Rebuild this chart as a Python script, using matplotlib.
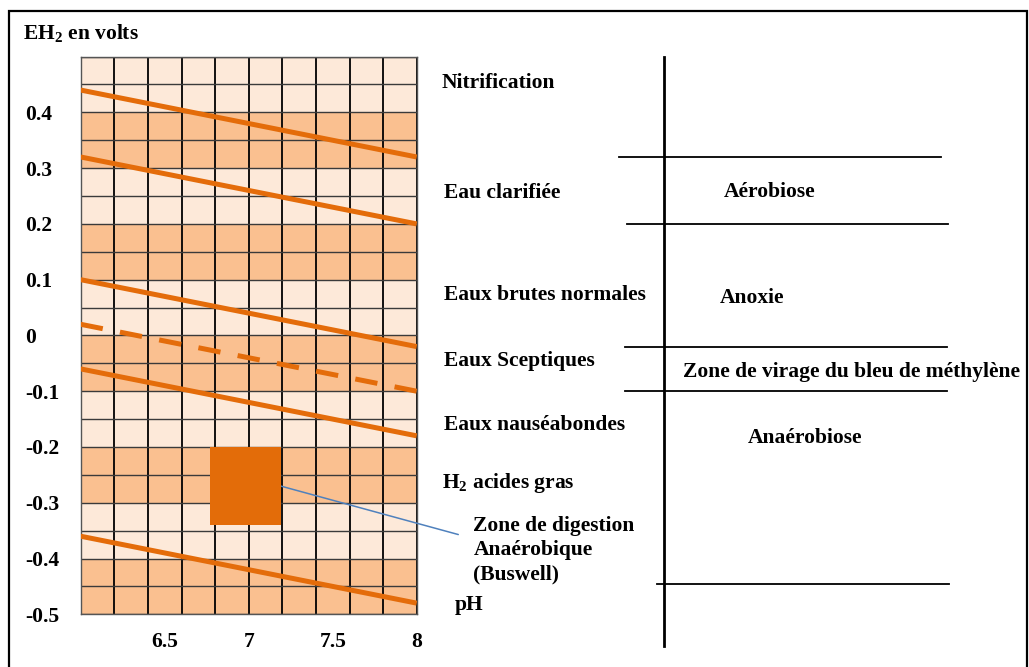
import numpy as np
import matplotlib
matplotlib.use("Agg")
import matplotlib.pyplot as plt
from matplotlib.patches import Rectangle

plt.rcParams['font.family'] = ['Liberation Serif', 'DejaVu Serif']
plt.rcParams['font.weight'] = 'bold'
plt.rcParams['mathtext.fontset'] = 'custom'
plt.rcParams['mathtext.rm'] = 'Liberation Serif:bold'
plt.rcParams['mathtext.it'] = 'Liberation Serif:bold'
plt.rcParams['mathtext.bf'] = 'Liberation Serif:bold'

# pH / potentiel redox (EH2, volts)
ph = [6.0, 8.0]
nitrification = [0.44, 0.32]
eau_clarifiee = [0.32, 0.20]
eaux_brutes = [0.10, -0.02]
eaux_sceptiques = [0.02, -0.10]
eaux_nauseabondes = [-0.06, -0.18]
acides_gras = [-0.36, -0.48]

# zone de digestion anaérobique (Buswell)
digestion_ph = [6.77, 7.19]
digestion_eh = [-0.34, -0.20]

xticks = [6.5, 7, 7.5, 8]
xtick_labels = ["6.5", "7", "7.5", "8"]
yticks = [0.4, 0.3, 0.2, 0.1, 0, -0.1, -0.2, -0.3, -0.4, -0.5]
ytick_labels = ["0.4", "0.3", "0.2", "0.1", "0", "-0.1", "-0.2", "-0.3", "-0.4", "-0.5"]

# étiquettes des eaux (à droite du graphe)
eaux_labels = ["Nitrification", "Eau clarifiée", "Eaux brutes normales",
               "Eaux Sceptiques", "Eaux nauséabondes", "H$_2$ acides gras"]
eaux_y = [0.452, 0.256, 0.073, -0.046, -0.16, -0.264]
eaux_x = [441.5, 444, 444, 444, 444, 441.7]

# zones et leurs limites
zones = ["Aérobiose", "Anoxie", "Zone de virage du bleu de méthylène", "Anaérobiose"]
zones_y = [0.258, 0.067, -0.066, -0.184]
zones_x = [724, 720, 683.3, 747.3]
limites = [0.32, 0.20, -0.02, -0.10, -0.445]
limites_x = [(619, 941), (627, 948), (625, 947), (625, 947), (657, 949)]

orange = "#E46C0A"
clair = "#FDE9D9"
fonce = "#FAC090"
fs = 15.5

W, H = 1029, 667
fig = plt.figure(figsize=(W / 100, H / 100), dpi=100)
ax = fig.add_axes([80.7 / W, (H - 614.3) / H, 336 / W, 557.7 / H])
ax.set_xlim(6.0, 8.0)
ax.set_ylim(-0.5, 0.5)

# bandes de fond (deux lignes claires, deux lignes foncées)
for i in range(20):
    haut = 0.5 - i * 0.05
    ax.axhspan(haut - 0.05, haut, color=clair if (i // 2) % 2 == 0 else fonce,
               lw=0, zorder=0.1)

# quadrillage : les ticks mineurs ne doivent pas disparaître sous les majeurs
ax.xaxis.remove_overlapping_locs = False
ax.yaxis.remove_overlapping_locs = False
ax.set_xticks(np.arange(6.0, 8.01, 0.2), minor=True)
ax.set_yticks(np.arange(-0.5, 0.501, 0.05), minor=True)
ax.set_axisbelow(True)
ax.grid(which='minor', axis='x', color='black', lw=1.3)
ax.grid(which='minor', axis='y', color='#3a3a3a', lw=1.0)
ax.grid(which='major', visible=False)
ax.tick_params(which='both', length=0)
for s in ax.spines.values():
    s.set_color('#555555')
    s.set_linewidth(1.0)

ax.set_xticks(xticks)
ax.set_xticklabels(xtick_labels, fontsize=fs)
ax.tick_params(axis='x', pad=13)
ax.set_yticks(yticks)
ax.set_yticklabels(ytick_labels, fontsize=fs, ha='left')
ax.tick_params(axis='y', pad=40)

lw = 3.6
for serie in [nitrification, eau_clarifiee, eaux_brutes, eaux_nauseabondes, acides_gras]:
    ax.plot(ph, serie, color=orange, lw=lw, solid_capstyle='butt', zorder=3)
ax.plot(ph, eaux_sceptiques, color=orange, lw=lw, dashes=(4.5, 3.5),
        dash_capstyle='butt', zorder=3)

ax.bar(sum(digestion_ph) / 2, digestion_eh[1] - digestion_eh[0],
       width=digestion_ph[1] - digestion_ph[0], bottom=digestion_eh[0],
       color="#E36C09", lw=0, zorder=4)

# partie droite : étiquettes et zones
ax2 = fig.add_axes([0, (H - 614.3) / H, 1, 557.7 / H])
ax2.set_xlim(0, W)
ax2.set_ylim(-0.5, 0.5)
ax2.axis('off')

for lab, x, y in zip(eaux_labels, eaux_x, eaux_y):
    ax2.text(x, y, lab, fontsize=fs, ha='left', va='center')
ax2.text(473.3, -0.385, "Zone de digestion\nAnaérobique\n(Buswell)", fontsize=fs,
         ha='left', va='center', linespacing=1.28)
ax2.text(455, -0.483, "pH", fontsize=fs, ha='left', va='center')

for lab, x, y in zip(zones, zones_x, zones_y):
    ax2.text(x, y, lab, fontsize=fs, ha='left', va='center')
for y, (x0, x1) in zip(limites, limites_x):
    ax2.plot([x0, x1], [y, y], color='black', lw=1.3, clip_on=False)
ax2.plot([664.3, 664.3], [0.5, -0.557], color='black', lw=2.0, clip_on=False)

ax.annotate('', xy=(digestion_ph[1], -0.27), xycoords='data',
            xytext=(458.3, -0.357), textcoords=ax2.transData,
            arrowprops=dict(arrowstyle='-', color='#4F81BD', lw=1.1,
                            shrinkA=0, shrinkB=0))

fig.text(23 / W, 1 - 33 / H, "EH$_2$ en volts", fontsize=fs, ha='left', va='center')

fig.add_artist(Rectangle((8.7 / W, -0.02), (1027 - 8.7) / W, 1.02 - 10.7 / H,
                         transform=fig.transFigure, fill=False, lw=1.6, ec='black'))

fig.savefig("out.png", dpi=100)
